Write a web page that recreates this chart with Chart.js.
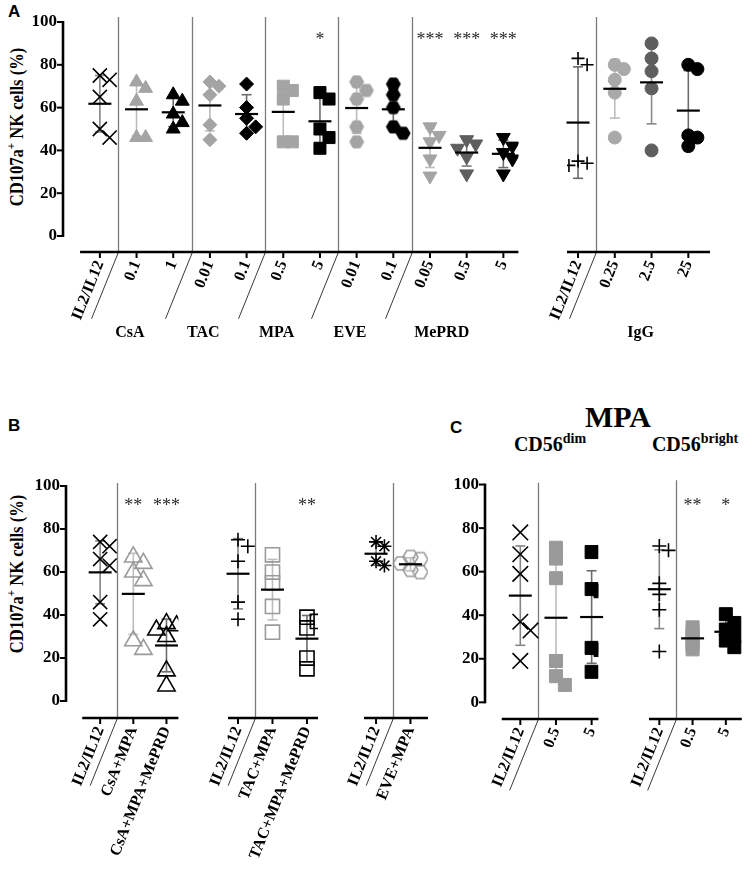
<!DOCTYPE html>
<html><head><meta charset="utf-8">
<script src="https://cdn.jsdelivr.net/npm/chart.js@4.4.1/dist/chart.umd.min.js"></script>
<style>
html,body{margin:0;padding:0;background:#fff;}
#fig{position:relative;width:752px;height:875px;overflow:hidden;font-family:"Liberation Serif","Times New Roman",serif;color:#000;}
.plab{position:absolute;font-family:"Liberation Sans",Arial,sans-serif;font-weight:bold;font-size:17px;line-height:17px;}
.ytitle{position:absolute;font-weight:bold;font-size:18px;line-height:20px;white-space:nowrap;transform:translate(-50%,-50%) rotate(-90deg) scaleX(0.92);}
.ytitle sup{font-size:12px;line-height:0;vertical-align:8px;}
.ctitle{position:absolute;font-weight:bold;font-size:30px;line-height:30px;white-space:nowrap;transform:translateX(-50%);}
.csub{position:absolute;font-weight:bold;font-size:20px;line-height:20px;white-space:nowrap;transform:translateX(-50%);}
.csub sup{font-size:14px;line-height:0;vertical-align:8px;}
</style>
</head>
<body>
<div id="fig">
  <div class="plab" style="left:8px;top:3px">A</div>
  <div class="plab" style="left:8px;top:417px">B</div>
  <div class="plab" style="left:450px;top:419px">C</div>
  <div class="ytitle" style="left:17px;top:127px">CD107a<sup>+</sup> NK cells (%)</div>
  <div class="ytitle" style="left:17px;top:574px">CD107a<sup>+</sup> NK cells (%)</div>
  <div class="ctitle" style="left:618px;top:402px">MPA</div>
  <div class="csub" style="left:550px;top:434px">CD56<sup>dim</sup></div>
  <div class="csub" style="left:695px;top:434px">CD56<sup>bright</sup></div>
</div>
<script>
// ---------------- DATA ----------------
const yTicks = [0, 20, 40, 60, 80, 100];

// Panel A (left): IL2/IL12 control + drug concentrations
const aCats = ['IL2/IL12', '0.1', '1', '0.01', '0.1', '0.5', '5', '0.01', '0.1', '0.05', '0.5', '5'];
const aDrugs = ['CsA', 'TAC', 'MPA', 'EVE', 'MePRD'];
const aDrugCols = [[1, 2], [3, 4], [5, 6], [7, 8], [9, 10, 11]];
const aIL2 = [75, 73, 65, 50, 46];
const aCsA01 = [72, 69, 63, 46, 46];
const aCsA1 = [66, 63, 57, 53, 50];
const aTAC001 = [72, 70, 66, 52, 45];
const aTAC01 = [71, 60, 55, 51, 48];
const aMPA05 = [70, 68, 64, 44, 44];
const aMPA5 = [67, 64, 50, 46, 41];
const aEVE001 = [72, 68, 64, 51, 44];
const aEVE01 = [71, 66, 60, 51, 48];
const aMePRD005 = [51, 47, 44, 36, 28];
const aMePRD05 = [45, 43, 41, 37, 29];
const aMePRD5 = [46, 42, 39, 36, 29];
const aStars = ['', '', '', '', '', '', '*', '', '', '***', '***', '***'];

// Panel A (right): IgG control
const igCats = ['IL2/IL12', '0.25', '2.5', '25'];
const igLabel = 'IgG';
const igIL2 = [83, 80, 35, 34, 33];
const ig025 = [80, 78, 73, 67, 46];
const ig25 = [90, 83, 77, 69, 40];
const ig250 = [80, 78, 47, 46, 42];

// Panel B: combinations
const b1Cats = ['IL2/IL12', 'CsA+MPA', 'CsA+MPA+MePRD'];
const b1IL2 = [74, 72, 66, 63, 46, 38];
const bCsAMPA = [67, 64, 60, 56, 28, 24];
const bCsAMPAMePRD = [36, 35, 33, 30, 14, 7];
const b1Stars = ['', '**', '***'];
const b2Cats = ['IL2/IL12', 'TAC+MPA', 'TAC+MPA+MePRD'];
const b2IL2 = [75, 72, 65, 46, 38];
const bTACMPA = [68, 60, 55, 44, 32];
const bTACMPAMePRD = [39, 37, 34, 20, 15];
const b2Stars = ['', '', '**'];
const b3Cats = ['IL2/IL12', 'EVE+MPA'];
const b3IL2 = [74, 72, 65, 63];
const bEVEMPA = [67, 66, 64, 61, 60];

// Panel C: MPA on CD56dim / CD56bright
const cCats = ['IL2/IL12', '0.5', '5'];
const c1IL2 = [78, 68, 59, 37, 33, 19];
const c1MPA05 = [71, 66, 57, 19, 12, 8];
const c1MPA5 = [69, 52, 51, 25, 24, 14];
const c2IL2 = [71, 69, 54, 49, 42, 23];
const c2MPA05 = [34, 32, 30, 28, 26, 24];
const c2MPA5 = [40, 36, 33, 30, 28, 25];
const c2Stars = ['', '**', '*'];

// ---------------- STYLE ----------------
const SERIF = "'Liberation Serif', 'Times New Roman', serif";
const ROT = 68;
const LG = '#a4a4a4', DG = '#5e5e5e', BK = '#000000', OG = '#9a9a9a';
const E_LG = '#bdbdbd', E_DG = '#7d7d7d', E_BK = '#6c6c6c', E_IL = '#858585';
Chart.defaults.font.family = SERIF;
Chart.defaults.color = '#000';

function hexImg(size, fill, stroke, lw) {
  const pad = Math.ceil(lw) + 1;
  const c = document.createElement('canvas');
  c.width = size + 2 * pad; c.height = size + 2 * pad;
  const g = c.getContext('2d');
  const cx = c.width / 2, cy = c.height / 2, R = size / 2;
  g.beginPath();
  for (let k = 0; k < 6; k++) {
    const a = Math.PI / 3 * k;
    const px = cx + R * Math.cos(a), py = cy + R * Math.sin(a);
    if (k === 0) g.moveTo(px, py); else g.lineTo(px, py);
  }
  g.closePath();
  if (fill) { g.fillStyle = fill; g.fill(); }
  g.strokeStyle = stroke; g.lineWidth = lw; g.stroke();
  return c;
}
function mk(style, r, fill, stroke, bw, sz, rot) { return {style, r, fill, stroke, bw, sz, rot: rot || 0}; }
const T = 'rgba(0,0,0,0)';

function swarm(vals, size, kx, ky, spread) {
  const off = vals.map(() => 0);
  if (!spread) return off;
  const order = vals.map((v, i) => i).sort((a, b) => vals[b] - vals[a]);
  const placed = [];
  const step = size * 0.7;
  for (const i of order) {
    for (const c of [0, 1, -1, 2, -2, 3, -3]) {
      const x = c * step;
      const ok = placed.every(q => Math.abs(q.y - vals[i]) * ky >= size * 0.7 || Math.abs(q.x - x) >= size * 0.65);
      if (ok) { off[i] = x / kx; placed.push({x, y: vals[i]}); break; }
    }
  }
  return off;
}
function stats(v) {
  const m = v.reduce((a, b) => a + b, 0) / v.length;
  const sd = Math.sqrt(v.reduce((a, b) => a + (b - m) * (b - m), 0) / (v.length - 1));
  return {m, sd};
}
function ln(ctx, x1, y1, x2, y2) { ctx.beginPath(); ctx.moveTo(x1, y1); ctx.lineTo(x2, y2); ctx.stroke(); }

function figPlugin(p) {
  return {
    id: 'fig_' + p.id,
    beforeDatasetsDraw(chart) {
      const ctx = chart.ctx, ca = chart.chartArea, xs = chart.scales.x, ys = chart.scales.y;
      const rad = ROT * Math.PI / 180;
      ctx.save();
      p.seps.forEach(s => {
        const x = Math.round(xs.getPixelForValue(s)) + 0.5;
        ctx.strokeStyle = '#7c7c7c'; ctx.lineWidth = 1.3;
        ln(ctx, x, ca.top, x, ca.bottom);
        ctx.strokeStyle = '#222'; ctx.lineWidth = 0.9;
        ln(ctx, x, ca.bottom, x - p.slant * Math.cos(rad), ca.bottom + p.slant * Math.sin(rad));
      });
      ctx.strokeStyle = '#000'; ctx.lineWidth = 2.6;
      ln(ctx, xs.getPixelForValue(p.axStart), ca.bottom, ca.right, ca.bottom);
      ctx.lineWidth = 2;
      p.cats.forEach((c, i) => { const x = xs.getPixelForValue(i); ln(ctx, x, ca.bottom, x, ca.bottom + 6); });
      if (p.yW) {
        ctx.lineWidth = 2.6;
        ln(ctx, ca.left, ys.getPixelForValue(0) + 1, ca.left, ys.getPixelForValue(100) - 1);
        ctx.lineWidth = 2;
        yTicks.forEach(v => { const y = ys.getPixelForValue(v); ln(ctx, ca.left - 6, y, ca.left, y); });
      }
      chart.data.datasets.forEach(ds => {
        const st = stats(ds.rawValues);
        const x = xs.getPixelForValue(ds.cat);
        const y1 = ys.getPixelForValue(st.m + st.sd), y2 = ys.getPixelForValue(st.m - st.sd);
        ctx.strokeStyle = ds.errColor; ctx.lineWidth = 1.6;
        ln(ctx, x, y1, x, y2);
        ln(ctx, x - 5, y1, x + 5, y1); ln(ctx, x - 5, y2, x + 5, y2);
      });
      ctx.restore();
    },
    afterDatasetsDraw(chart) {
      const ctx = chart.ctx, ca = chart.chartArea, xs = chart.scales.x, ys = chart.scales.y;
      ctx.save();
      chart.data.datasets.forEach(ds => {
        const st = stats(ds.rawValues);
        const x = xs.getPixelForValue(ds.cat), y = ys.getPixelForValue(st.m);
        ctx.strokeStyle = '#000'; ctx.lineWidth = 2.2;
        ln(ctx, x - 11.5, y, x + 11.5, y);
      });
      ctx.fillStyle = '#2a2a2a'; ctx.textAlign = 'center'; ctx.textBaseline = 'middle';
      ctx.font = '18px ' + SERIF;
      (p.stars || []).forEach((s, i) => { if (s) ctx.fillText(s, xs.getPixelForValue(i), ys.getPixelForValue(p.starY)); });
      ctx.fillStyle = '#000'; ctx.font = 'bold 16px ' + SERIF;
      (p.groupLabels || []).forEach(g => {
        ctx.fillText(g.text, xs.getPixelForValue(g.at) + g.dx, ca.bottom + p.glY);
      });
      ctx.restore();
    }
  };
}

function makeChart(p) {
  const cv = document.createElement('canvas');
  cv.width = p.w; cv.height = p.h;
  cv.style.cssText = 'position:absolute;left:' + p.left + 'px;top:' + p.top + 'px;width:' + p.w + 'px;height:' + p.h + 'px;';
  document.getElementById('fig').appendChild(cv);
  const datasets = p.groups.map((g, i) => {
    const offs = swarm(g.vals, g.m.sz, p.kx, p.ky, g.spread !== false);
    return {
      data: g.vals.map((v, j) => ({x: i + offs[j], y: v})),
      rawValues: g.vals, cat: i, errColor: g.err,
      pointStyle: g.m.style, pointRadius: g.m.r, pointRotation: g.m.rot,
      pointBackgroundColor: g.m.fill, pointBorderColor: g.m.stroke, pointBorderWidth: g.m.bw,
      showLine: false
    };
  });
  return new Chart(cv, {
    type: 'scatter',
    data: {datasets},
    options: {
      responsive: false, animation: false, events: [],
      layout: {padding: {left: p.padL, right: p.padR, top: p.padT, bottom: 0}},
      plugins: {legend: {display: false}, tooltip: {enabled: false}},
      scales: {
        x: {
          type: 'linear', min: p.xMin, max: p.xMax, bounds: 'data',
          grid: {display: false, drawTicks: true, tickLength: 6}, border: {display: false},
          afterBuildTicks: s => { s.ticks = p.cats.map((c, i) => ({value: i})); },
          afterFit: s => { s.height = p.xH; },
          ticks: {autoSkip: false, minRotation: ROT, maxRotation: ROT, padding: 0, color: '#000',
            font: {family: SERIF, size: 16, weight: 'bold'},
            callback: v => p.cats[Math.round(v)]}
        },
        y: {
          type: 'linear', display: !!p.yW, min: p.yMin, max: p.yMax, bounds: 'data',
          grid: {display: false, drawTicks: true, tickLength: 6}, border: {display: false},
          afterBuildTicks: s => { s.ticks = yTicks.map(v => ({value: v})); },
          afterFit: s => { if (p.yW) s.width = p.yW; },
          ticks: {padding: 0, color: '#000', font: {family: SERIF, size: 17, weight: 'bold'}, callback: v => String(v)}
        }
      }
    },
    plugins: [figPlugin(p)]
  });
}

// marker presets
const hexLG = hexImg(14, LG, LG, 1), hexBK = hexImg(14, BK, BK, 1), hexOpen = hexImg(15, null, OG, 1.5);

// ---------------- PANEL A ----------------
makeChart({
  id: 'a1', left: 0, top: 0, w: 530, h: 350, padL: 0, padR: 10, padT: 17, yW: 63, xH: 98,
  xMin: -1.005, xMax: 11.41, yMin: -7.48, yMax: 102.34, kx: 36.8, ky: 2.14, axStart: -0.54,
  cats: aCats, seps: [0.5, 2.5, 4.5, 6.5, 8.5], slant: 72, glY: 81,
  groupLabels: aDrugs.map((d, k) => ({text: d, at: aDrugCols[k].reduce((a, b) => a + b, 0) / aDrugCols[k].length, dx: -25})),
  stars: aStars, starY: 91.5,
  groups: [
    {vals: aIL2, m: mk('crossRot', 10, BK, BK, 1.6, 14), err: E_IL},
    {vals: aCsA01, m: mk('triangle', 8, LG, LG, 1, 13), err: E_LG},
    {vals: aCsA1, m: mk('triangle', 8, BK, BK, 1, 13), err: E_BK},
    {vals: aTAC001, m: mk('rectRot', 7, LG, LG, 1, 13), err: E_LG},
    {vals: aTAC01, m: mk('rectRot', 7, BK, BK, 1, 13), err: E_BK},
    {vals: aMPA05, m: mk('rect', 8.5, LG, LG, 1, 13), err: E_LG},
    {vals: aMPA5, m: mk('rect', 8.5, BK, BK, 1, 13), err: E_BK},
    {vals: aEVE001, m: mk(hexLG, 7, LG, LG, 1, 14), err: E_LG},
    {vals: aEVE01, m: mk(hexBK, 7, BK, BK, 1, 14), err: E_BK},
    {vals: aMePRD005, m: mk('triangle', 8, LG, LG, 1, 13, 180), err: E_LG},
    {vals: aMePRD05, m: mk('triangle', 8, DG, DG, 1, 13, 180), err: E_DG},
    {vals: aMePRD5, m: mk('triangle', 8, BK, BK, 1, 13, 180), err: E_BK}
  ]
});
makeChart({
  id: 'a2', left: 530, top: 0, w: 222, h: 350, padL: 37, padR: 42, padT: 17, yW: 0, xH: 98,
  xMin: -0.30, xMax: 3.59, yMin: -7.48, yMax: 102.34, kx: 36.8, ky: 2.14, axStart: -0.30,
  cats: igCats, seps: [0.5], slant: 72, glY: 81,
  groupLabels: [{text: igLabel, at: 2, dx: -11}],
  groups: [
    {vals: igIL2, m: mk('cross', 6.5, BK, BK, 1.6, 13), err: '#6a6a6a'},
    {vals: ig025, m: mk('circle', 6.5, '#a9a9a9', '#a9a9a9', 1, 13), err: E_LG},
    {vals: ig25, m: mk('circle', 6.5, DG, DG, 1, 13), err: '#8a8a8a'},
    {vals: ig250, m: mk('circle', 6.5, BK, BK, 1, 13), err: E_BK}
  ]
});

// ---------------- PANEL B ----------------
const bCommon = {top: 470, h: 405, padT: 13, xH: 157, yMin: -7.9, yMax: 101.4, ky: 2.15, kx: 34.5, slant: 73, starY: 90.4};
makeChart(Object.assign({}, bCommon, {
  id: 'b1', left: 0, w: 190, padL: 0, padR: 7, yW: 66, xMin: -1.03, xMax: 2.36, axStart: -0.54,
  cats: b1Cats, seps: [0.5], stars: b1Stars,
  groups: [
    {vals: b1IL2, m: mk('crossRot', 10, BK, BK, 1.6, 14), err: E_IL},
    {vals: bCsAMPA, m: mk('triangle', 10, T, OG, 1.6, 15), err: E_LG},
    {vals: bCsAMPAMePRD, m: mk('triangle', 10, T, BK, 1.6, 15), err: E_BK}
  ]
}));
makeChart(Object.assign({}, bCommon, {
  id: 'b2', left: 190, w: 140, padL: 38, padR: 12, yW: 0, xMin: -0.29, xMax: 2.32, axStart: -0.29,
  cats: b2Cats, seps: [0.5], stars: b2Stars,
  groups: [
    {vals: b2IL2, m: mk('cross', 7, BK, BK, 1.6, 14), err: E_IL},
    {vals: bTACMPA, m: mk('rect', 10, T, OG, 1.6, 15), err: E_LG},
    {vals: bTACMPAMePRD, m: mk('rect', 10, T, BK, 1.6, 15), err: E_BK}
  ]
}));
makeChart(Object.assign({}, bCommon, {
  id: 'b3', left: 330, w: 110, padL: 34, padR: 12, yW: 0, xMin: -0.35, xMax: 1.51, axStart: -0.35,
  cats: b3Cats, seps: [0.5],
  groups: [
    {vals: b3IL2, m: mk('star', 7, BK, BK, 1.6, 12), err: E_IL},
    {vals: bEVEMPA, m: mk(hexOpen, 7, T, OG, 1.5, 14), err: E_LG}
  ]
}));

// ---------------- PANEL C ----------------
const cCommon = {top: 470, h: 405, padT: 8, xH: 156, yMin: -7.66, yMax: 100.9, ky: 2.22, slant: 77, starY: 89};
makeChart(Object.assign({}, cCommon, {
  id: 'c1', left: 440, w: 171, padL: 0, padR: 10, yW: 45, xMin: -0.99, xMax: 2.19, kx: 36.5, axStart: -0.52,
  cats: cCats, seps: [0.5],
  groups: [
    {vals: c1IL2, m: mk('crossRot', 11, BK, BK, 1.6, 15), err: E_IL},
    {vals: c1MPA05, m: mk('rect', 9.2, OG, OG, 1, 13), err: E_LG},
    {vals: c1MPA5, m: mk('rect', 9.2, BK, BK, 1, 13), err: E_BK}
  ]
}));
makeChart(Object.assign({}, cCommon, {
  id: 'c2', left: 611, w: 141, padL: 38, padR: 4, yW: 0, xMin: -0.31, xMax: 2.48, kx: 35.5, axStart: -0.31,
  cats: cCats, seps: [0.5], stars: c2Stars,
  groups: [
    {vals: c2IL2, m: mk('cross', 7, BK, BK, 1.6, 14), err: E_IL},
    {vals: c2MPA05, m: mk('rect', 9.2, OG, OG, 1, 13), err: E_LG, spread: false},
    {vals: c2MPA5, m: mk('rect', 9.2, BK, BK, 1, 13), err: E_BK}
  ]
}));
</script>
</body></html>
